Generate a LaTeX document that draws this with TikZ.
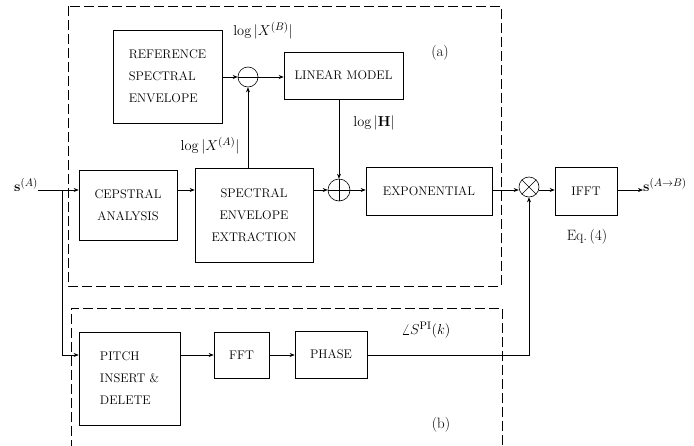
\documentclass[tikz,border=0pt]{standalone}
\usetikzlibrary{arrows.meta}
\begin{document}
\begin{tikzpicture}[x=1pt,y=-1pt,
  blk/.style={draw,line width=0.6pt,inner sep=2pt,font={\fontsize{12.5}{22}\selectfont}},
  sumc/.style={draw,circle,line width=0.6pt,minimum size=20pt,inner sep=0pt},
  conn/.style={line width=0.6pt,-{Stealth[length=5pt,width=4pt]}},
  wire/.style={line width=0.6pt},
  frame/.style={line width=0.6pt,dash pattern=on 10pt off 4pt},
  lbl/.style={font={\fontsize{15}{17}\selectfont},inner sep=0pt}]
\useasboundingbox (0,0) rectangle (694,445);
% frames
\draw[frame] (68,6) rectangle (501,286);
\draw[frame] (71,450) -- (71,308) -- (502,308) -- (502,450);
% blocks
\node[blk,minimum width=109pt,minimum height=93pt,align=left] (ref) at (167.5,76.5) {REFERENCE\\SPECTRAL\\ENVELOPE};
\node[sumc] (minus) at (248,77) {};
\draw[wire] (minus.west) -- (minus.east);
\node[blk,minimum width=119pt,minimum height=47pt] (lin) at (343.5,75.5) {LINEAR MODEL};
\node[sumc,minimum size=22pt] (plus) at (339,190) {};
\draw[wire] (plus.west) -- (plus.east) (plus.north) -- (plus.south);
\node[blk,minimum width=98pt,minimum height=70pt,align=center] (cep) at (128,205) {CEPSTRAL\\ANALYSIS};
\node[blk,minimum width=118pt,minimum height=94pt,align=center] (spec) at (254,215) {SPECTRAL\\ENVELOPE\\EXTRACTION};
\node[blk,minimum width=126pt,minimum height=48pt] (exp) at (429,191) {EXPONENTIAL};
\node[sumc] (times) at (529,187) {};
\draw[wire] (times.north west) -- (times.south east) (times.north east) -- (times.south west);
\node[blk,minimum width=62pt,minimum height=48pt] (ifft) at (586,191) {IFFT};
\node[blk,minimum width=101pt,minimum height=93pt,align=left] (pitch) at (129.5,378.5) {PITCH\\INSERT \&\\DELETE};
\node[blk,minimum width=55pt,minimum height=46pt] (fft) at (241.5,355) {FFT};
\node[blk,minimum width=72pt,minimum height=47pt] (phase) at (331,354.5) {PHASE};
% labels
\node[lbl,anchor=east] (sA) at (38,185) {$\mathbf{s}^{(A)}$};
\node[lbl,anchor=west] (sB) at (643,185) {$\mathbf{s}^{(A\rightarrow B)}$};
\node[lbl] (lXB) at (263,31) {$\log|X^{(B)}|$};
\node[lbl] (lXA) at (210,146) {$\log|X^{(A)}|$};
\node[lbl] (lH) at (374,123) {$\log|\mathbf{H}|$};
\node[lbl] (la) at (440,53) {(a)};
\node[lbl] (lb) at (441,425) {(b)};
\node[lbl] (lS) at (426,330) {$\angle S^{\mathrm{PI}}(k)$};
\node[lbl] (leq) at (587,237) {Eq.\,(4)};
% connectors
\coordinate (mainy) at (0,190);
\coordinate (br) at (62,190);
\draw[conn] (sA.east |- mainy) -- (cep.west |- mainy);
\draw[conn] (br) |- (pitch.west |- fft.west);
\draw[conn] (cep.east |- mainy) -- (spec.west |- mainy);
\draw[conn] (spec.east |- mainy) -- (plus.west);
\draw[conn] (plus.east) -- (exp.west |- mainy);
\draw[conn] (exp.east |- mainy) -- (times.west |- mainy);
\draw[conn] (times.east |- mainy) -- (ifft.west |- mainy);
\draw[conn] (ifft.east |- mainy) -- (sB.west |- mainy);
\draw[conn] (ref.east |- minus.west) -- (minus.west);
\draw[conn] (minus.east) -- (lin.west |- minus.east);
\draw[conn] (minus.south |- spec.north) -- (minus.south);
\draw[conn] (plus.north |- lin.south) -- (plus.north);
\draw[conn] (pitch.east |- fft.west) -- (fft.west);
\draw[conn] (fft.east) -- (phase.west |- fft.east);
\draw[conn] (phase.east |- fft.east) -| (times.south);
\end{tikzpicture}
\end{document}
